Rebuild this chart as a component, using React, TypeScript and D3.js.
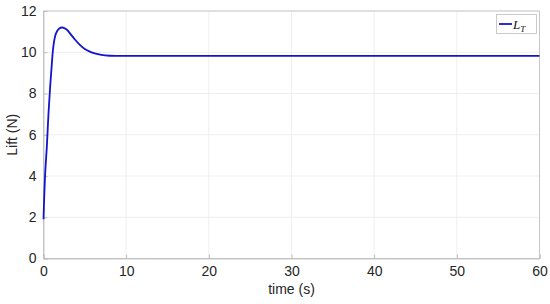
import React, { useRef, useEffect } from "react";
import * as d3 from "d3";

// time (s) and lift (N)
const times = [0, 0.2, 0.4, 0.6, 0.8, 1.0, 1.2, 1.5, 1.9, 2.3, 2.8, 3.3, 3.8, 4.4, 5.0, 5.6, 6.2, 7.0, 8.0, 9.0, 12, 20, 30, 40, 50, 60];
const lift = [1.9, 4.1, 5.4, 7.0, 8.3, 9.4, 10.3, 10.9, 11.15, 11.2, 11.1, 10.87, 10.62, 10.36, 10.16, 10.03, 9.94, 9.87, 9.83, 9.82, 9.82, 9.82, 9.82, 9.82, 9.82, 9.82];
const xTicks = [0, 10, 20, 30, 40, 50, 60];
const yTicks = [0, 2, 4, 6, 8, 10, 12];

const App = () => {
  const ref = useRef<SVGSVGElement>(null);

  useEffect(() => {
    const svg = d3.select(ref.current);
    svg.selectAll("*").remove();

    const left = 43.5, right = 539.5, top = 11, bottom = 258.5;
    const x = d3.scaleLinear().domain([0, 60]).range([left, right]);
    const y = d3.scaleLinear().domain([0, 12]).range([bottom, top]);
    const font = "Arial, 'Liberation Sans', sans-serif";

    svg.append("rect").attr("width", 550).attr("height", 304).attr("fill", "#fff");

    // grid
    const grid = svg.append("g").attr("stroke", "#ebebeb").attr("stroke-width", 0.8);
    xTicks.forEach((t) => {
      grid.append("line").attr("x1", x(t)).attr("x2", x(t)).attr("y1", top).attr("y2", bottom);
    });
    yTicks.forEach((t) => {
      grid.append("line").attr("x1", left).attr("x2", right).attr("y1", y(t)).attr("y2", y(t));
    });

    // box
    svg.append("rect")
      .attr("x", left).attr("y", top)
      .attr("width", right - left).attr("height", bottom - top)
      .attr("fill", "none").attr("stroke", "#bdbdbd").attr("stroke-width", 0.8);

    // axes
    const xAxis = d3.axisBottom(x).tickValues(xTicks).tickSize(-4).tickPadding(8);
    const yAxis = d3.axisLeft(y).tickValues(yTicks).tickSize(-4).tickPadding(7);
    const gx = svg.append("g").attr("transform", `translate(0,${bottom})`).call(xAxis);
    const gy = svg.append("g").attr("transform", `translate(${left},0)`).call(yAxis);
    [gx, gy].forEach((g) => {
      g.select(".domain").attr("stroke", "#bdbdbd").attr("stroke-width", 0.8);
      g.selectAll(".tick line").attr("stroke", "#bdbdbd");
      g.selectAll(".tick text").attr("fill", "#262626").style("font-family", font).style("font-size", "14px");
    });

    // line
    const pts = times.map((t, i) => [t, lift[i]] as [number, number]);
    const line = d3.line<[number, number]>()
      .x((d) => x(d[0]))
      .y((d) => y(d[1]))
      .curve(d3.curveCatmullRom.alpha(0.5));
    svg.append("path")
      .attr("d", line(pts))
      .attr("fill", "none")
      .attr("stroke", "#1414cc")
      .attr("stroke-width", 1.8);

    // labels
    svg.append("text")
      .attr("x", (left + right) / 2).attr("y", 294)
      .attr("text-anchor", "middle")
      .attr("fill", "#262626")
      .style("font-family", font).style("font-size", "14px")
      .text("time (s)");
    svg.append("text")
      .attr("transform", `translate(17,${(top + bottom) / 2}) rotate(-90)`)
      .attr("text-anchor", "middle")
      .attr("fill", "#262626")
      .style("font-family", font).style("font-size", "14px")
      .style("font-variant-ligatures", "none")
      .text("Lift (N)");

    // legend
    const lg = svg.append("g");
    lg.append("rect")
      .attr("x", 496.5).attr("y", 14.5).attr("width", 40).attr("height", 19)
      .attr("fill", "#fff").attr("stroke", "#bdbdbd").attr("stroke-width", 0.8);
    lg.append("line")
      .attr("x1", 499).attr("x2", 512).attr("y1", 24).attr("y2", 24)
      .attr("stroke", "#1414cc").attr("stroke-width", 1.8);
    const lt = lg.append("text")
      .attr("x", 513).attr("y", 28.5)
      .attr("fill", "#111")
      .style("font-family", "'Liberation Serif', 'DejaVu Serif', serif")
      .style("font-style", "italic")
      .style("font-size", "13px");
    lt.append("tspan").text("L");
    lt.append("tspan").attr("dy", 3).style("font-size", "9px").text("T");
  }, []);

  return (
    <div>
      <style>{"html,body{margin:0;padding:0;overflow:hidden}"}</style>
      <svg ref={ref} width={550} height={304} style={{ display: "block", overflow: "visible" }} />
    </div>
  );
};

export default App;
